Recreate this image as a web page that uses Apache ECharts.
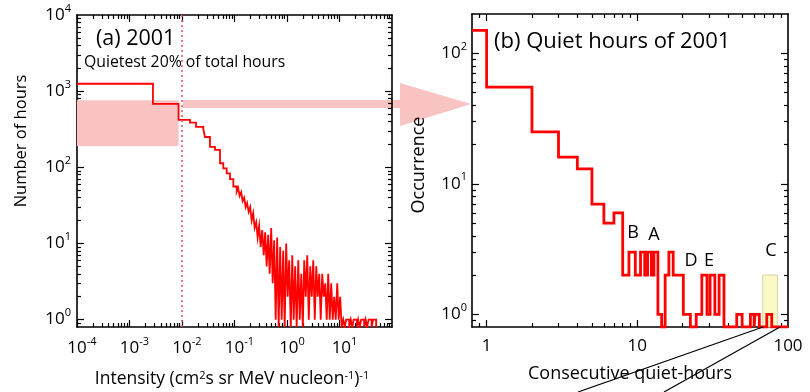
<!DOCTYPE html>
<html><head><meta charset="utf-8">
<script src="https://cdn.jsdelivr.net/npm/echarts@6/dist/echarts.min.js"></script>
<style>html,body{margin:0;padding:0;background:#fff}#c{width:810px;height:392px}</style>
</head><body><div id="c"></div>
<script>
// ---------- DATA ----------
// Panel (a): histogram of hourly intensity, 2001. Each count spans [previous edge, this edge].
const intensityEdges = [
  0.0028, 0.0086, 0.0142, 0.0185, 0.0255, 0.0274, 0.0341, 0.0425, 0.053, 0.0612, 0.071, 0.082, 0.095, 0.11,
  0.117, 0.125, 0.134, 0.143, 0.153, 0.163, 0.174, 0.186, 0.199, 0.212, 0.227, 0.242, 0.259, 0.276, 0.295, 0.315,
  0.337, 0.360, 0.384, 0.410, 0.438, 0.468, 0.500, 0.534, 0.570, 0.609, 0.650, 0.694, 0.741, 0.792, 0.846, 0.903,
  0.965, 1.03, 1.10, 1.18, 1.26, 1.34, 1.43, 1.53, 1.64, 1.75, 1.87, 2.00, 2.13, 2.28, 2.43, 2.60, 2.77, 2.96,
  3.16, 3.38, 3.61, 3.85, 4.11, 4.39, 4.69, 5.01, 5.35, 5.71, 6.10, 6.51, 6.96, 7.43, 7.93, 8.47, 9.05, 9.66,
  10.3, 11.0, 11.8, 12.6, 13.4, 14.3, 15.3, 16.4, 17.5, 18.6, 19.9, 21.3, 22.7, 24.2, 25.9, 27.6, 29.5, 31.5,
  33.6, 35.9, 38.4, 41.0, 43.7, 46.7, 49.9, 51.0
];
const hourCounts = [
  1250, 680, 420, 385, 340, 315, 250, 186, 169, 113, 97, 83, 70, 56,
  48, 54, 42, 47, 36, 40, 30, 34, 26, 30, 20, 25, 16, 19, 12, 17,
  9, 15, 7, 14, 5, 13, 4, 16, 3, 11, 1, 12, 0, 9, 1, 8,
  0, 10, 2, 6, 0, 7, 1, 5, 0, 6, 1, 4, 0, 6, 2, 7, 1, 5,
  2, 6, 1, 5, 2, 4, 1, 4, 2, 3, 1, 4, 1, 3, 1, 2, 1, 3,
  1, 2, 0, 1, 0, 1, 1, 0, 1, 0, 1, 1, 0, 1, 0, 1, 1, 0,
  1, 0, 1, 1, 0, 1, 1, 0
];
const quietThreshold = 0.0086;          // intensity bounding the quietest 20% of hours
const quietBandCounts = [190, 760];     // shaded range of hours

// Panel (b): occurrence of consecutive quiet-hour runs. Each value spans [previous edge, this edge].
const runEdges = [1, 2, 3, 4, 5, 6, 7, 8, 8.8, 9.7, 10.5, 11.2, 11.7, 12.4, 12.9, 13.7,
  14.5, 15.3, 16.2, 17.3, 20.2, 22.5, 24.6, 26.8, 29, 30.4, 32.7, 34.9, 37.6,
  45.7, 49.6, 56.3, 59.6, 60.4, 64.5, 72.3, 78, 100];
const occurrence = [150, 55, 25, 16, 13, 7, 5, 6, 2, 3, 2, 3, 2, 3, 2, 3,
  1, 0, 2, 3, 2, 1, 0, 1, 2, 1, 2, 1, 2,
  0, 1, 0, 1, 0, 1, 0, 1, 0];
const eventNames = ['B', 'A', 'D', 'E', 'C'];
const eventRun = [9.36, 12.9, 22.7, 29.9, 77];
const eventLevel = [4.2, 4.05, 2.57, 2.57, 3.06];
const boxC = [68, 85, 2];   // run-length range and height of highlighted bin C

// ---------- CHART ----------
const FONT = 'Open Sans';
const XA = [1e-4, 1e2], YA = [0.8, 1e4];
const XB = [0.8, 100], YB = [0.8, 200];
const RED = '#ff0000', INK = '#000';

function decades(min, max) {
  const out = [];
  for (let e = -6; e <= 6; e++) {
    const v = Math.pow(10, e) * 1.0002;
    if (v >= min && v <= max) out.push(v);
  }
  return out;
}
function minors(min, max) {
  const out = [];
  for (let e = -6; e <= 6; e++) for (let k = 2; k <= 9; k++) {
    const v = +(k * Math.pow(10, e)).toPrecision(6);
    if (v > min * 1.0001 && v < max * 0.9999) out.push(v);
  }
  return out;
}
const supFmt = v => '{b|10}{s|' + Math.round(Math.log10(v)) + '}';
const supRich = (padLeft) => ({
  b: { fontFamily: FONT, fontSize: 17, color: INK, lineHeight: 24, padding: [0, 0, 0, padLeft] },
  s: { fontFamily: FONT, fontSize: 11, color: INK, lineHeight: 14, verticalAlign: 'top' }
});

// Each panel = 4 stacked grids with the same rectangle, one x and one y axis each:
// 0: bottom/left major (+labels), 1: top/right major, 2: bottom/left minor, 3: top/right minor
const grids = [], xAxes = [], yAxes = [];
function panel(rect, XR, YR, xLab, yLab) {
  const kinds = [
    { opp: false, major: true }, { opp: true, major: true },
    { opp: false, major: false }, { opp: true, major: false }
  ];
  kinds.forEach((k, j) => {
    const g = grids.length;
    grids.push(Object.assign({}, rect));
    const mk = (dim, R, lab) => {
      const ax = {
        type: 'log', gridIndex: g, min: R[0], max: R[1],
        splitLine: { show: false },
        axisLine: { show: true, lineStyle: { color: k.major ? INK : 'rgba(0,0,0,0)', width: 1.6 } },
        axisTick: { show: true, inside: true, length: k.major ? 7 : 4,
          customValues: k.major ? decades(R[0], R[1]) : minors(R[0], R[1]),
          lineStyle: { color: INK, width: 1.2 } },
        axisLabel: { show: false }
      };
      if (k.opp) ax.position = dim === 'x' ? 'top' : 'right';
      if (j === 0 && lab) ax.axisLabel = Object.assign({ show: true, fontFamily: FONT, fontSize: 17, color: INK }, lab);
      return ax;
    };
    xAxes.push(mk('x', XR, xLab));
    yAxes.push(mk('y', YR, yLab));
  });
}
panel({ left: 77, top: 15, width: 315, height: 312 }, XA, YA,
  { customValues: [1e-4, 1e-3, 1e-2, 1e-1, 1, 10], formatter: supFmt, rich: supRich(10), margin: 9 },
  { customValues: [1, 10, 100, 1000, 10000], formatter: supFmt, rich: supRich(0), margin: 6 });
panel({ left: 472, top: 14, width: 316, height: 313 }, XB, YB,
  { customValues: [1, 10, 100], formatter: v => String(Math.round(v)), margin: 11 },
  { customValues: [1, 10, 100], formatter: supFmt, rich: supRich(0), margin: 5 });

// step series data (value i spans [edge i-1, edge i]); empty bins sit on the axis floor
const seriesA = [[XA[0], Math.max(hourCounts[0], YA[0])]].concat(
  intensityEdges.map((x, i) => [x, Math.max(hourCounts[i], YA[0])]));
const seriesB = [[XB[0], Math.max(occurrence[0], YB[0])]].concat(
  runEdges.map((x, i) => [x, Math.max(occurrence[i], YB[0])]));

const PINK = '#f9c3c3';

const option = {
  animation: false,
  backgroundColor: '#fff',
  grid: grids,
  xAxis: xAxes,
  yAxis: yAxes,
  series: [
    { type: 'line', xAxisIndex: 0, yAxisIndex: 0, data: [], z: 1, silent: true,
      markArea: { silent: true, itemStyle: { color: PINK },
        data: [[{ xAxis: XA[0], yAxis: quietBandCounts[0] }, { xAxis: quietThreshold, yAxis: quietBandCounts[1] }]] },
      markLine: { silent: true, symbol: 'none', label: { show: false },
        lineStyle: { color: '#de5a72', width: 1.6, type: [2, 3] },
        data: [{ xAxis: quietThreshold }] } },
    { type: 'line', xAxisIndex: 0, yAxisIndex: 0, step: 'start', data: seriesA, symbol: 'none', clip: true, z: 3,
      lineStyle: { color: RED, width: 1.8, join: 'miter' } },
    { type: 'line', xAxisIndex: 4, yAxisIndex: 4, data: [], z: 1, silent: true,
      markArea: { silent: true, itemStyle: { color: '#fbf9c6', borderColor: '#d6d6a8', borderWidth: 1 },
        data: [[{ xAxis: boxC[0], yAxis: YB[0] }, { xAxis: boxC[1], yAxis: boxC[2] }]] } },
    { type: 'line', xAxisIndex: 4, yAxisIndex: 4, step: 'start', data: seriesB, symbol: 'none', clip: true, z: 3,
      lineStyle: { color: RED, width: 2.8, join: 'miter' } }
  ],
  graphic: [
    { type: 'polygon', z: 0, silent: true,
      shape: { points: [[183, 100], [400, 100], [400, 83], [471, 104], [400, 126], [400, 108], [183, 108]] },
      style: { fill: PINK } },
    { type: 'text', x: 96, y: 39, style: { text: '(a) 2001', fontFamily: FONT, fontSize: 21.5, fill: INK, verticalAlign: 'middle' } },
    { type: 'text', x: 84, y: 62, style: { text: 'Quietest 20% of total hours', fontFamily: FONT, fontSize: 15.8, fill: INK, verticalAlign: 'middle' } },
    { type: 'text', x: 494, y: 42, style: { text: '(b) Quiet hours of 2001', fontFamily: FONT, fontSize: 22, fill: INK, verticalAlign: 'middle' } },
    { type: 'text', x: 21, y: 141, rotation: Math.PI / 2,
      style: { text: 'Number of hours', fontFamily: FONT, fontSize: 16.5, fill: INK, align: 'center', verticalAlign: 'middle' } },
    { type: 'text', x: 419, y: 165, rotation: Math.PI / 2,
      style: { text: 'Occurrence', fontFamily: FONT, fontSize: 18, fill: INK, align: 'center', verticalAlign: 'middle' } },
    { type: 'text', x: 232, y: 379,
      style: { text: 'Intensity (cm{s|2}s sr MeV nucleon{s|-1}){s|-1}', fontFamily: FONT, fontSize: 17.5, fill: INK,
        align: 'center', verticalAlign: 'middle',
        rich: { s: { fontFamily: FONT, fontSize: 11, fill: INK, verticalAlign: 'top', lineHeight: 12 } } } },
    { type: 'text', x: 630, y: 374,
      style: { text: 'Consecutive quiet-hours', fontFamily: FONT, fontSize: 18, fill: INK, align: 'center', verticalAlign: 'middle' } },
    { type: 'line', z: 10, shape: { x1: 763, y1: 327, x2: 578, y2: 392 }, style: { stroke: INK, lineWidth: 1.2 } },
    { type: 'line', z: 10, shape: { x1: 780, y1: 327, x2: 664, y2: 392 }, style: { stroke: INK, lineWidth: 1.2 } }
  ]
};
const chart = echarts.init(document.getElementById('c'), null, { renderer: 'canvas' });
chart.setOption(option);
// event letters placed at their data coordinates through panel (b)'s axes
const letters = eventNames.map((n, i) => {
  const p = chart.convertToPixel({ xAxisIndex: 4, yAxisIndex: 4 }, [eventRun[i], eventLevel[i]]);
  return { type: 'text', z: 20, x: p[0], y: p[1], silent: true,
    style: { text: n, fontFamily: FONT, fontSize: 18, fill: INK, align: 'center', verticalAlign: 'middle' } };
});
chart.setOption({ graphic: option.graphic.concat(letters) });
</script></body></html>
